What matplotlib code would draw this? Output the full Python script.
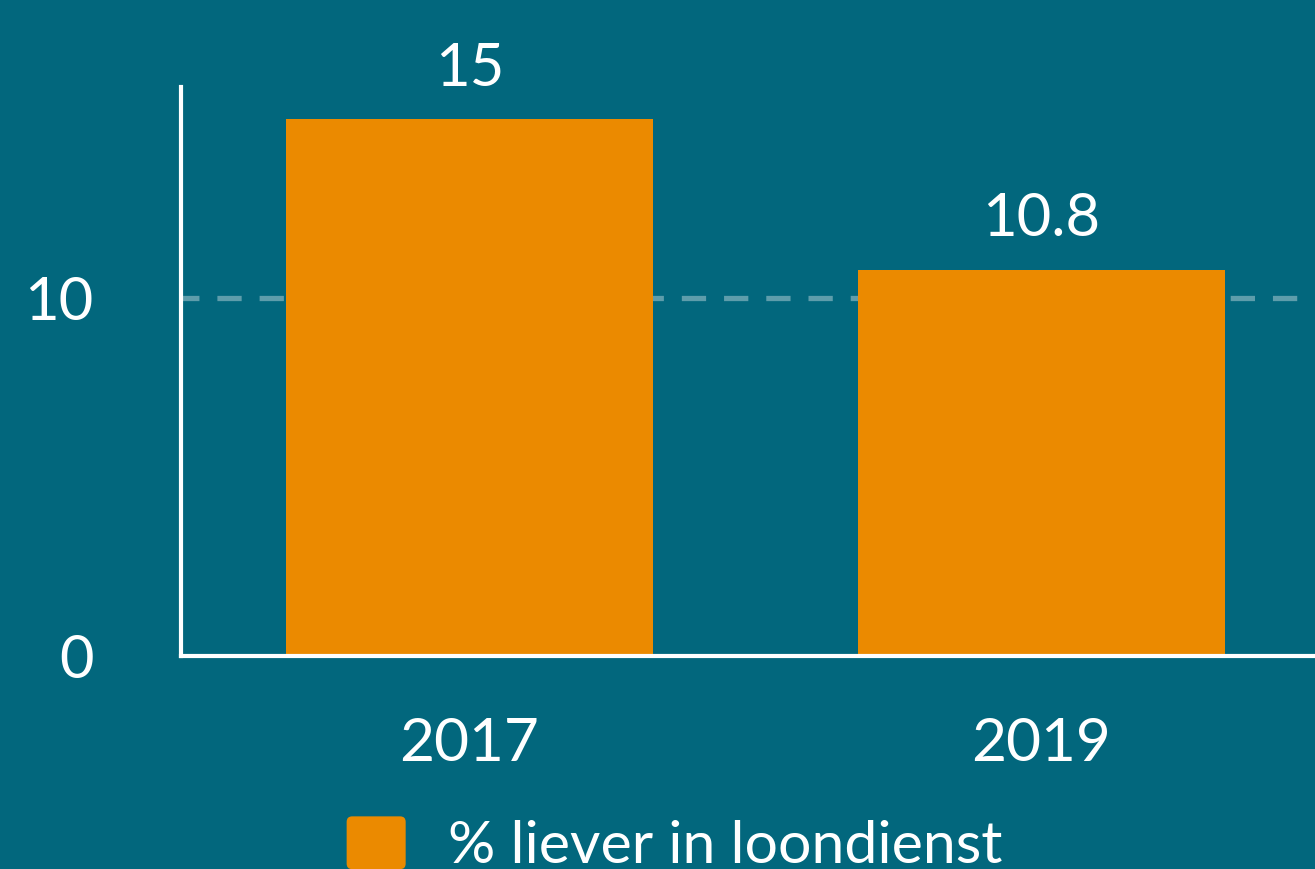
import matplotlib
matplotlib.use("Agg")
import matplotlib.pyplot as plt
from matplotlib.patches import FancyBboxPatch, Patch
from matplotlib.legend_handler import HandlerPatch

years = ["2017", "2019"]
liever_loondienst = [15, 10.8]
value_labels = ["15", "10.8"]
y_ticks = [0, 10]
series_name = "% liever in loondienst"

BG = "#02677d"
ORANGE = "#eb8a00"

plt.rcParams["font.family"] = ["Lato", "DejaVu Sans"]

fig = plt.figure(figsize=(13.15, 8.69), dpi=100, facecolor=BG)
ax = fig.add_axes([0.1376, 0.2451, 0.8624, 0.6548], facecolor=BG)

x = list(range(len(years)))
bars = ax.bar(x, liever_loondienst, width=0.642, color=ORANGE, zorder=3)
ax.bar_label(bars, labels=value_labels, padding=17, color="white", fontsize=43)

ax.set_xlim(-0.504, 1.478)
ax.set_ylim(0, 15.9)
ax.set_xticks(x)
ax.set_xticklabels(years)
ax.set_yticks(y_ticks)
ax.tick_params(axis="x", length=0, pad=44, labelsize=43.5, labelcolor="white")
ax.tick_params(axis="y", length=0, pad=63, labelsize=43, labelcolor="white")

# dashed gridline at 10 only
ax.yaxis.grid(True, color="#5e9dab", linewidth=3.8, linestyle=(1.2, (4.6, 3.4)), zorder=1)
ax.set_axisbelow(True)
gl = ax.yaxis.get_gridlines()
gl[0].set_visible(False)

for s in ["top", "right"]:
    ax.spines[s].set_visible(False)
for s in ["left", "bottom"]:
    ax.spines[s].set_color("white")
    ax.spines[s].set_linewidth(3)
    ax.spines[s].set_zorder(4)


def rounded_box(legend, orig_handle, xdescent, ydescent, width, height, fontsize):
    return FancyBboxPatch((-xdescent, -ydescent), width, height,
                          boxstyle="round,pad=0,rounding_size=4",
                          facecolor=ORANGE, edgecolor="none")


handle = Patch(facecolor=ORANGE, label=series_name)
fig.legend(handles=[handle], loc="center", bbox_to_anchor=(0.513, 0.028),
           frameon=False, fontsize=42.5, labelcolor="white",
           handlelength=1.0, handleheight=1.0, handletextpad=0.72,
           handler_map={Patch: HandlerPatch(patch_func=rounded_box)})

fig.savefig("out.png", dpi=100, facecolor=BG)
